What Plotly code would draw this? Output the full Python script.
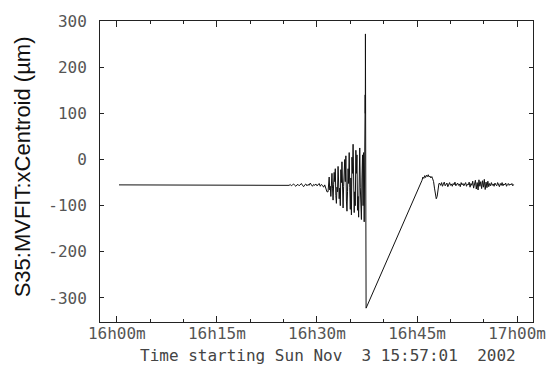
import numpy as np
import pandas as pd
import plotly.graph_objects as go

# ---- data (seconds after 16:00:00 on 2002-11-03, value in um) ----
base_start, base_step = 20, 60
base_vals = [-55, -55, -55, -56, -55, -55, -55, -55, -56, -55, -55, -55, -55,
             -55, -56, -55, -55, -55, -55, -56, -55, -55, -55, -55, -56, -55]

noise1_start, noise1_step = 1540, 10
noise1_vals = [-55, -56, -54, -57, -55, -53, -56, -58, -55, -54, -57, -55,
               -52, -56, -59, -55, -53, -57, -54, -56, -51, -55, -58, -54,
               -56, -53, -57, -55, -52, -58, -54, -56, -60, -55, -62, -70]

osc_start, osc_step = 1900, 5
osc_vals = [-70, -52, -38, -66, -58, -80, -45, -30, -62, -88,
            -55, -28, -48, -20, -78, -95, -60, -70, -15, -40,
            -85, -62, -100, -22, -50, -5, -72, -105, -58, -40,
            0, -48, 8, -90, -112, -70, -20, -52, 15, -60,
            -108, -40, -120, 5, -30, 33, -55, -115, -70, -100,
            20, -30, 10, -110, -80, -125, -5, 25, -60, -95,
            -130, -40, 10, -100, 15, -135]

spike_t = [2230, 2232, 2234, 2235, 2236, 2237, 2238, 2239, 2240, 2241, 2242]
spike_vals = [10, -90, 140, 100, 272, -150, 110, -280, -200, -290, -322]

bump_start, bump_step = 2745, 8
bump_vals = [-45, -38, -41, -35, -39, -34, -37, -33, -38, -36, -40, -37,
             -42, -48, -62, -78, -85, -80, -60, -52]

noise2_start, noise2_step = 2905, 8
noise2_vals = [-52, -56, -50, -58, -53, -49, -57, -55, -51, -59,
               -54, -50, -56, -53, -58, -52, -55, -49, -57, -54,
               -51, -56, -53, -59, -50, -55, -52, -57, -54, -50,
               -58, -53, -55, -49, -60, -52, -56, -47, -62, -51,
               -45, -64, -50, -66, -44, -58, -48, -63, -46, -60,
               -43, -65, -49, -61, -47, -59, -52, -57, -50, -56,
               -53, -58, -51, -55, -57, -50, -54, -59, -52, -56,
               -50, -57, -53, -55, -51, -58, -54, -52, -56, -53,
               -55, -52, -57, -54]

ytick_vals = [300, 200, 100, 0, -100, -200, -300]
ytick_text = ["300", "200", "100", "0", "-100", "-200", "-300"]
xtick_times = ["2002-11-03 16:00:00", "2002-11-03 16:15:00", "2002-11-03 16:30:00",
               "2002-11-03 16:45:00", "2002-11-03 17:00:00"]
xtick_text = ["16h00m", "16h15m", "16h30m", "16h45m", "17h00m"]

y_title = "S35:MVFIT:xCentroid (µm)"
x_title = "Time starting Sun Nov  3 15:57:01  2002"

# ---- assemble ----
def seg(start, step, vals):
    return list(start + step * np.arange(len(vals))), list(vals)

secs, vals = [], []
for s, v in [seg(base_start, base_step, base_vals),
             seg(noise1_start, noise1_step, noise1_vals),
             seg(osc_start, osc_step, osc_vals),
             (spike_t, spike_vals),
             seg(bump_start, bump_step, bump_vals),
             seg(noise2_start, noise2_step, noise2_vals)]:
    secs += list(s)
    vals += list(v)

t0 = pd.Timestamp("2002-11-03 16:00:00")
times = t0 + pd.to_timedelta(np.array(secs, dtype=float), unit="s")

fig = go.Figure()
fig.add_trace(go.Scatter(x=times, y=vals, mode="lines",
                         line=dict(color="#111111", width=1), showlegend=False))

xtickfont = dict(family="DejaVu Sans Mono", size=16, color="#555555")
ytickfont = dict(family="DejaVu Sans Mono", size=16, color="#555555")

fig.update_layout(
    width=558, height=383,
    margin=dict(l=100, r=21, t=14, b=61),
    paper_bgcolor="white", plot_bgcolor="white",
    showlegend=False,
)
fig.update_xaxes(
    range=["2002-11-03 15:57:29", "2002-11-03 17:02:23"],
    tickvals=xtick_times, ticktext=xtick_text,
    ticks="inside", ticklen=6, tickcolor="#222", tickwidth=1,
    minor=dict(dtick=300000, ticks="inside", ticklen=3, tickcolor="#222"),
    showline=True, linecolor="#222", linewidth=1, mirror="ticks",
    showgrid=False, zeroline=False, tickfont=xtickfont, ticklabelstandoff=-3,
)
fig.update_yaxes(
    range=[-352, 300],
    tickvals=ytick_vals, ticktext=ytick_text,
    ticks="inside", ticklen=4, tickcolor="#222", tickwidth=1,
    showline=True, linecolor="#222", linewidth=1, mirror="ticks",
    showgrid=False, zeroline=False, tickfont=ytickfont, ticklabelstandoff=9,
)
fig.add_annotation(
    text=y_title, xref="paper", yref="paper",
    x=(22 - 100) / 437, y=(322 - 163) / 308, textangle=-90, showarrow=False,
    xanchor="center", yanchor="middle",
    font=dict(family="Liberation Sans", size=22, color="#111111"),
)
fig.add_annotation(
    text=x_title.replace(" ", "\u00a0"), xref="paper", yref="paper",
    x=(330 - 100) / 437, y=(322 - 356) / 308, showarrow=False,
    xanchor="center", yanchor="middle",
    font=dict(family="DejaVu Sans Mono", size=16, color="#444444"),
)

fig.write_html("out.html")
